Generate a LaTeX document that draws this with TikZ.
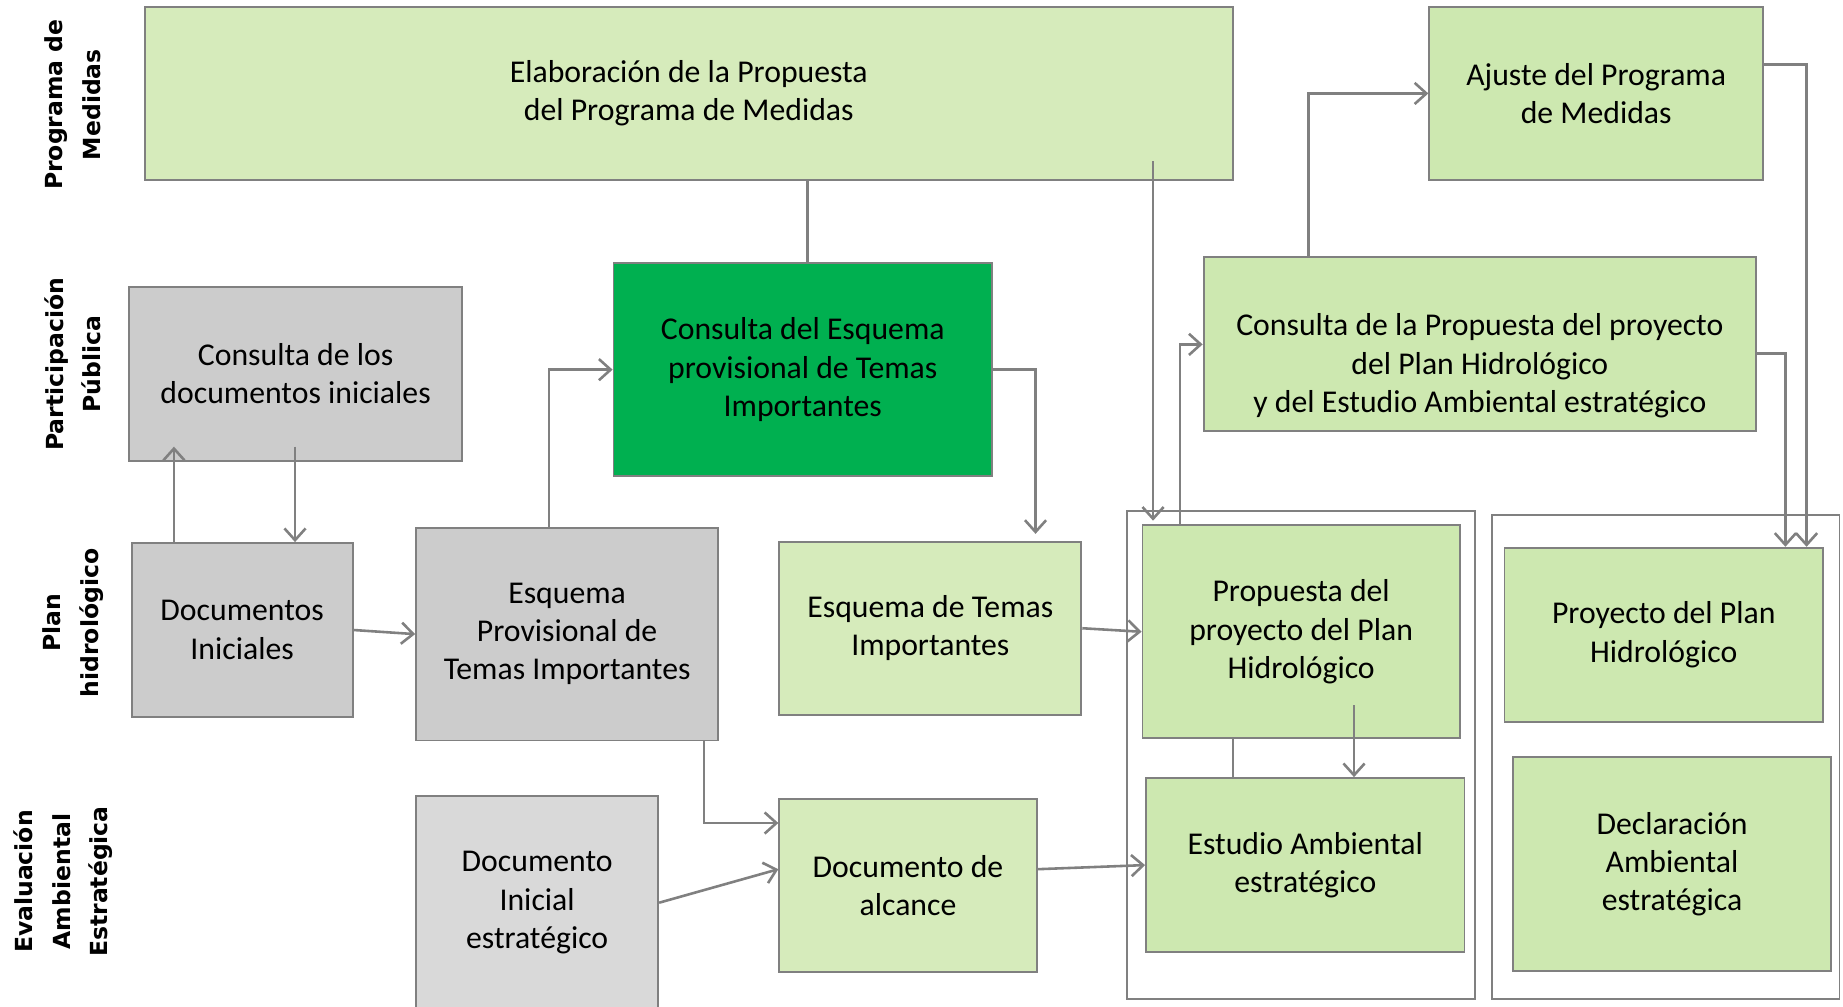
\documentclass[tikz,border=0pt]{standalone}
\usepackage{fontspec}
\setmainfont{Carlito}
\newfontfamily\lanefont{DejaVu Sans}
\usetikzlibrary{arrows.meta}
\definecolor{palegreen}{HTML}{D6EBBB}
\definecolor{stepgreen}{HTML}{CDE8B0}
\definecolor{darkgreen}{HTML}{00B050}
\definecolor{boxgrey}{HTML}{CCCCCC}
\definecolor{lightgrey}{HTML}{D9D9D9}
\definecolor{linegrey}{HTML}{808080}
\tikzset{
  phase box/.style={
    draw=linegrey,
    line width=1.6pt,
    fill=stepgreen,
    align=center,
    inner sep=0pt,
    font=\fontsize{27}{32.5}\selectfont,
  },
  frame box/.style={
    draw=linegrey,
    line width=1.6pt,
    inner sep=0pt,
  },
  lane label/.style={
    rotate=90,
    align=center,
    font=\lanefont\bfseries\fontsize{20}{32}\selectfont,
  },
  flow/.style={
    draw=linegrey,
    line width=2.2pt,
  },
  flow arrow/.style={
    flow,
    -{Straight Barb[length=10pt, width=18pt]},
  },
}

\begin{document}
\begin{tikzpicture}[x=1pt, y=-1pt]
      \useasboundingbox (0,0) rectangle (1568,856);

      \node[lane label] (lpm)  at (62,89)  {Programa de\\Medidas};
      \node[lane label] (lpp)  at (62,310) {Participación\\Pública};
      \node[lane label] (lph)  at (62,530) {Plan\\hidrológico};
      \node[lane label] (lea)  at (54,750) {Evaluación\\Ambiental\\Estratégica};

      \node[frame box, minimum width=296, minimum height=415] (frame1) at (1107,642.5) {};
      \node[frame box, minimum width=296, minimum height=412] (frame2) at (1417,644)   {};

      \node[phase box, fill=palegreen, minimum width=926, minimum height=147] (elab)    at (586,79.5)   {Elaboración de la Propuesta\\del Programa de Medidas};
      \node[phase box, minimum width=284, minimum height=147]                 (ajuste)  at (1358,79.5)  {Ajuste del Programa\\de Medidas};
      \node[phase box, fill=boxgrey, minimum width=283, minimum height=148]   (consdoc) at (251.5,318)  {Consulta de los\\documentos iniciales};
      \node[phase box, fill=darkgreen, minimum width=322, minimum height=181] (consesq) at (683,314.5)  {Consulta del Esquema\\provisional de Temas\\Importantes};
      \node[phase box, minimum width=470, minimum height=148]                 (consprop) at (1259,293)  {\strut\\Consulta de la Propuesta del proyecto\\del Plan Hidrológico\\y del Estudio Ambiental estratégico};
      \node[phase box, fill=boxgrey, minimum width=188, minimum height=148]   (docini)  at (206,536)    {Documentos\\Iniciales};
      \node[phase box, fill=boxgrey, minimum width=257, minimum height=181]   (esqprov) at (482.5,539.5) {Esquema\\Provisional de\\Temas Importantes};
      \node[phase box, fill=palegreen, minimum width=257, minimum height=147] (esqtemas) at (791.5,534.5) {Esquema de Temas\\Importantes};
      \node[phase box, minimum width=270, minimum height=181]                 (propuesta) at (1107,537.5) {Propuesta del\\proyecto del Plan\\Hidrológico};
      \node[phase box, minimum width=271, minimum height=148]                 (estudio) at (1110.5,736)  {Estudio Ambiental\\estratégico};
      \node[phase box, minimum width=271, minimum height=148]                 (proyecto) at (1415.5,540) {Proyecto del Plan\\Hidrológico};
      \node[phase box, minimum width=271, minimum height=182]                 (declar)  at (1422.5,735)  {Declaración\\Ambiental\\estratégica};
      \node[phase box, fill=lightgrey, minimum width=206, minimum height=182] (docest)  at (457,768)     {Documento\\Inicial\\estratégico};
      \node[phase box, fill=palegreen, minimum width=219, minimum height=147] (docalc)  at (772.5,753.5) {Documento de\\alcance};

      % free ends inside the boxes
      \coordinate (elabout)  at (981,137);
      \coordinate (propin)   at (981,443);
      \coordinate (consup)   at (148,380);
      \coordinate (consdown) at (251,380);
      \coordinate (propout)  at (1152,600);

      \draw[flow] (elab.south -| 687,0) -- (consesq.north -| 687,0);
      \draw[flow] (propuesta.south -| 1049,0) -- (estudio.north -| 1049,0);

      \draw[flow arrow] (elabout) -- (propin);
      \draw[flow arrow] (docini.north -| consup) -- (consup);
      \draw[flow arrow] (consdown) -- (docini.north -| consdown);
      \draw[flow arrow] (docini.east) -- (esqprov.west);
      \draw[flow arrow] (esqtemas.east) -- (propuesta.west);
      \draw[flow arrow] (docest.east) -- ([yshift=14pt]docalc.west);
      \draw[flow arrow] ([yshift=14pt]docalc.east) -- (estudio.west);
      \draw[flow arrow] (propout) -- (estudio.north -| propout);

      \draw[flow arrow] (esqprov.north -| 467,0) |- (consesq.west);
      \draw[flow arrow] (consesq.east) -| ([yshift=6pt]esqtemas.north -| 881,0);
      \draw[flow arrow] (esqprov.south -| 599,0) |- ([yshift=-21pt]docalc.north west);
      \draw[flow arrow] (propuesta.north -| 1004,0) |- (consprop.west);
      \draw[flow arrow] (consprop.north -| 1113,0) |- (ajuste.west);
      \draw[flow arrow] (ajuste.east |- 0,55) -| (proyecto.north -| 1537,0);
      \draw[flow arrow] (consprop.east |- 0,301) -| (proyecto.north -| 1519,0);
    \end{tikzpicture}
\end{document}
